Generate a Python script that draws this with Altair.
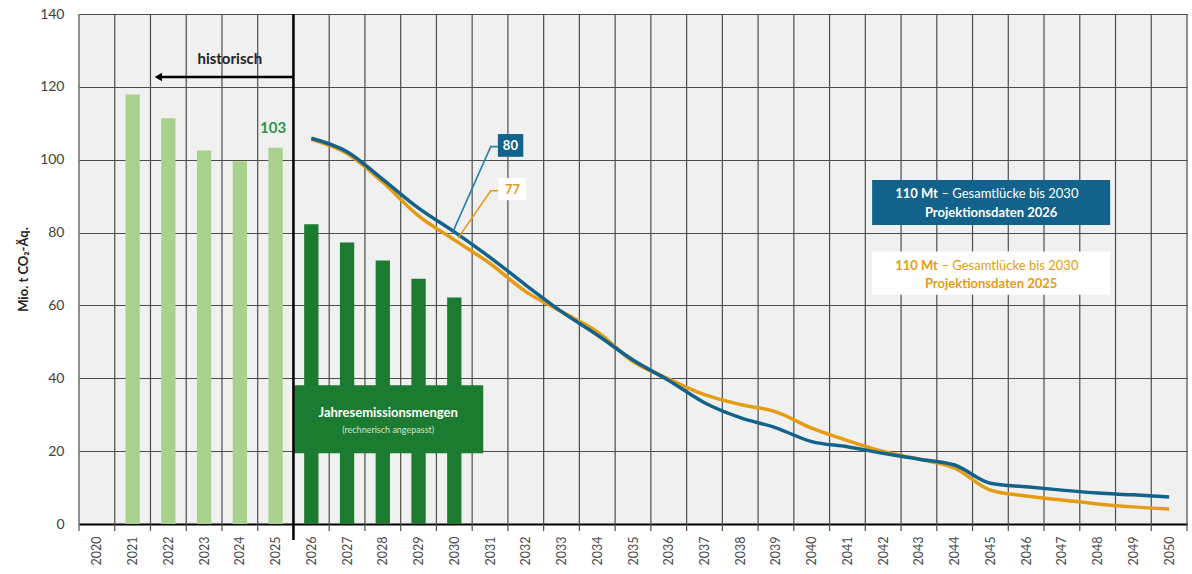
import altair as alt
import pandas as pd

FONT = "Lato"

# ---- data ----
hist_years = [2021, 2022, 2023, 2024, 2025]
hist_values = [117.9, 111.4, 102.5, 99.6, 103.3]

jem_years = [2026, 2027, 2028, 2029, 2030]
jem_values = [82.3, 77.3, 72.3, 67.3, 62.2]

proj_years = list(range(2026, 2051))
proj_2026 = [105.9, 102.2, 94.6, 86.7, 80.2, 73.2, 65.6, 58.3, 51.9, 45.0,
             39.4, 33.3, 29.2, 26.4, 22.6, 21.2, 19.4, 17.8, 16.2, 11.2,
             10.2, 9.3, 8.5, 8.0, 7.4]
proj_2025 = [105.6, 101.7, 93.8, 84.6, 78.0, 71.5, 63.8, 58.3, 52.8, 44.6,
             39.8, 35.5, 32.8, 30.8, 26.3, 22.9, 19.9, 17.8, 15.3, 9.3,
             7.7, 6.6, 5.5, 4.7, 4.1]

year_labels = list(range(2020, 2051))
boundaries = [y - 0.5 for y in range(2020, 2052)]
y_ticks = [0, 20, 40, 60, 80, 100, 120, 140]

# ---- colours ----
LIGHT_GREEN = "#a9d18e"
DARK_GREEN = "#1b7b30"
BLUE = "#12628b"
ORANGE = "#e59c12"
GRID = "#4d4d4d"

W, H = 1108, 510
xs = alt.Scale(domain=[2019.5, 2050.5], nice=False, zero=False)
ys = alt.Scale(domain=[0, 140], nice=False)

XAXIS = alt.Axis(values=year_labels, format="d", labelAngle=-90,
                 ticks=False, grid=False, domain=True,
                 domainColor="#000000", domainWidth=2,
                 labelFont=FONT, labelFontSize=12.5,
                 labelColor="#4a4a4a", labelPadding=12, title=None)
YAXIS = alt.Axis(values=y_ticks, grid=True, gridColor=GRID,
                 gridWidth=1.2, gridOpacity=1, ticks=False,
                 domain=False, labelFont=FONT, labelFontSize=14,
                 labelColor="#404040", labelPadding=15,
                 title="Mio. t CO₂-Äq.", titleFont=FONT,
                 titleFontSize=13, titleFontWeight="bold",
                 titleColor="#222222", titlePadding=9)


def X(f):
    return alt.X(f, type="quantitative", scale=xs, axis=XAXIS)


def Y(f):
    return alt.Y(f, type="quantitative", scale=ys, axis=YAXIS)


# vertical grid lines (band boundaries, extending as ticks below the axis)
grid_df = pd.DataFrame({"x": boundaries, "y0": -1.9, "y1": 140})
grid_v = alt.Chart(grid_df).mark_rule(color=GRID, strokeWidth=1.2).encode(
    x=X("x"), y=Y("y0"), y2="y1")

hist_df = pd.DataFrame({"year": hist_years, "value": hist_values})
hist_bars = alt.Chart(hist_df).transform_calculate(
    x0="datum.year - 0.2", x1="datum.year + 0.2", base="0"
).mark_rect(color=LIGHT_GREEN).encode(x=X("x0"), x2="x1:Q", y=Y("base"), y2="value:Q")

jem_df = pd.DataFrame({"year": jem_years, "value": jem_values})
jem_bars = alt.Chart(jem_df).transform_calculate(
    x0="datum.year - 0.2", x1="datum.year + 0.2", base="0"
).mark_rect(color=DARK_GREEN).encode(x=X("x0"), x2="x1:Q", y=Y("base"), y2="value:Q")

# green label box
gbox_df = pd.DataFrame({"x0": [2025.52], "x1": [2030.81], "y0": [19.4], "y1": [38.1]})
gbox = alt.Chart(gbox_df).mark_rect(color=DARK_GREEN).encode(
    x=X("x0"), x2="x1", y=Y("y0"), y2="y1")
gtxt1 = alt.Chart(pd.DataFrame({"x": [2028.15], "y": [30.6], "t": ["Jahresemissionsmengen"]})
                  ).mark_text(font=FONT, fontSize=13, fontWeight="bold", color="#ffffff",
                              baseline="middle").encode(x=X("x"), y=Y("y"), text="t:N")
gtxt2 = alt.Chart(pd.DataFrame({"x": [2028.15], "y": [25.9], "t": ["(rechnerisch angepasst)"]})
                  ).mark_text(font=FONT, fontSize=9, color="#cfe3cf",
                              baseline="middle").encode(x=X("x"), y=Y("y"), text="t:N")

# projection lines
o_df = pd.DataFrame({"year": proj_years, "value": proj_2025})
b_df = pd.DataFrame({"year": proj_years, "value": proj_2026})
line_o = alt.Chart(o_df).mark_line(color=ORANGE, strokeWidth=3.5, interpolate="monotone").encode(
    x=X("year"), y=Y("value"))
line_b = alt.Chart(b_df).mark_line(color=BLUE, strokeWidth=3.5, interpolate="monotone").encode(
    x=X("year"), y=Y("value"))

# separator line between historical and future
sep_df = pd.DataFrame({"x": [2025.5], "y0": [-4.4], "y1": [140]})
sep = alt.Chart(sep_df).mark_rule(color="#000000", strokeWidth=2.5).encode(
    x=X("x"), y=Y("y0"), y2="y1")

# "historisch" arrow
arr_df = pd.DataFrame({"x0": [2021.75], "x1": [2025.5], "y": [122.7]})
arrow_line = alt.Chart(arr_df).mark_rule(color="#000000", strokeWidth=2.5).encode(
    x=X("x0"), x2="x1", y=Y("y"))
head_df = pd.DataFrame({"x": [2021.72], "y": [122.7]})
arrow_head = alt.Chart(head_df).mark_point(shape="triangle-left", filled=True, size=70,
                                           color="#000000", opacity=1).encode(
    x=X("x"), y=Y("y"))
hist_txt = alt.Chart(pd.DataFrame({"x": [2023.72], "y": [127.6], "t": ["historisch"]})
                     ).mark_text(font=FONT, fontSize=15, fontWeight="bold", color="#222222",
                                 baseline="middle").encode(x=X("x"), y=Y("y"), text="t:N")
lbl103 = alt.Chart(pd.DataFrame({"x": [2024.93], "y": [108.8], "t": ["103"]})
                   ).mark_text(font=FONT, fontSize=15, fontWeight="bold", color="#2f9445",
                               baseline="middle").encode(x=X("x"), y=Y("y"), text="t:N")

# leader lines to value labels
lead_b = pd.DataFrame({"x": [2029.96, 2031.02, 2031.22], "y": [80.2, 103.6, 103.6], "o": [0, 1, 2]})
lead_o = pd.DataFrame({"x": [2030.1, 2031.02, 2031.23], "y": [78.4, 91.5, 91.5], "o": [0, 1, 2]})
leader_b = alt.Chart(lead_b).mark_line(color="#2a7fb0", strokeWidth=1.6).encode(
    x=X("x"), y=Y("y"), order="o:Q")
leader_o = alt.Chart(lead_o).mark_line(color=ORANGE, strokeWidth=1.6).encode(
    x=X("x"), y=Y("y"), order="o:Q")

box80 = alt.Chart(pd.DataFrame({"x0": [2031.22], "x1": [2031.93], "y0": [100.8], "y1": [107.05]})
                  ).mark_rect(color=BLUE).encode(x=X("x0"), x2="x1", y=Y("y0"), y2="y1")
txt80 = alt.Chart(pd.DataFrame({"x": [2031.57], "y": [103.9], "t": ["80"]})
                  ).mark_text(font=FONT, fontSize=13, fontWeight="bold", color="#ffffff",
                              baseline="middle").encode(x=X("x"), y=Y("y"), text="t:N")
box77 = alt.Chart(pd.DataFrame({"x0": [2031.23], "x1": [2032.0], "y0": [88.9], "y1": [95.0]})
                  ).mark_rect(color="#ffffff").encode(x=X("x0"), x2="x1", y=Y("y0"), y2="y1")
txt77 = alt.Chart(pd.DataFrame({"x": [2031.63], "y": [91.7], "t": ["77"]})
                  ).mark_text(font=FONT, fontSize=13, fontWeight="bold", color=ORANGE,
                              baseline="middle").encode(x=X("x"), y=Y("y"), text="t:N")

# legend-like boxes
lb_df = pd.DataFrame({"x0": [2041.69, 2041.69], "x1": [2048.35, 2048.35],
                      "y0": [82.1, 62.9], "y1": [94.4, 74.8],
                      "c": [BLUE, "#ffffff"]})
lboxes = alt.Chart(lb_df).mark_rect().encode(
    x=X("x0"), x2="x1", y=Y("y0"), y2="y1", color=alt.Color("c:N", scale=None))


def legend_text(y1, y2, col, year):
    a = alt.Chart(pd.DataFrame({"x": [2043.53], "y": [y1], "t": ["110 Mt"]})).mark_text(
        font=FONT, fontSize=13, fontWeight="bold", color=col, align="right",
        baseline="middle").encode(x=X("x"), y=Y("y"), text="t:N")
    b = alt.Chart(pd.DataFrame({"x": [2043.63], "y": [y1], "t": ["– Gesamtlücke bis 2030"]})).mark_text(
        font=FONT, fontSize=13, color=col, align="left",
        baseline="middle").encode(x=X("x"), y=Y("y"), text="t:N")
    c = alt.Chart(pd.DataFrame({"x": [2045.02], "y": [y2], "t": ["Projektionsdaten " + year]})).mark_text(
        font=FONT, fontSize=13, fontWeight="bold", color=col,
        baseline="middle").encode(x=X("x"), y=Y("y"), text="t:N")
    return [a, b, c]


leg_b = legend_text(90.5, 85.5, "#ffffff", "2026")
leg_o = legend_text(70.8, 65.8, ORANGE, "2025")

chart = alt.layer(
    grid_v, hist_bars, jem_bars, gbox, gtxt1, gtxt2,
    line_o, line_b, sep, arrow_line, arrow_head, hist_txt, lbl103,
    leader_b, leader_o, box80, txt80, box77, txt77, lboxes, *leg_b, *leg_o,
).properties(
    width=W, height=H,
    autosize=alt.AutoSizeParams(type="none"),
    padding={"left": 79, "top": 14, "right": 5, "bottom": 50},
    background="#ffffff",
).configure_view(fill="#f0f0f0", strokeWidth=0)

chart.save("out.html", embed_options={"renderer": "svg", "actions": False})
